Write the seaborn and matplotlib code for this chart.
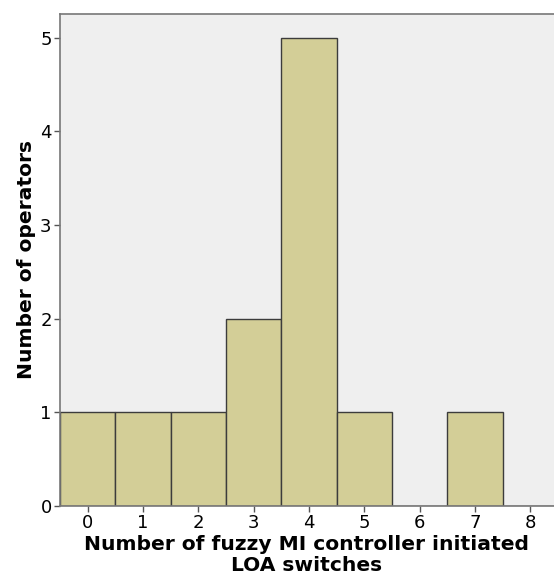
import matplotlib
matplotlib.use("Agg")
import matplotlib.pyplot as plt
import seaborn as sns

# switch counts per operator (histogram)
switches = [0, 1, 2, 3, 4, 5, 6, 7, 8]
operators = [1, 1, 1, 2, 5, 1, 0, 1, 0]
x_ticks = [0, 1, 2, 3, 4, 5, 6, 7, 8]
y_ticks = [0, 1, 2, 3, 4, 5]

sns.set_style("white")
plt.rcParams["font.family"] = ["DejaVu Sans"]

fig = plt.figure(figsize=(5.54, 5.80), dpi=100)
ax = fig.add_axes([60 / 554, 1 - 506 / 580, 1 - 60 / 554, (506 - 13.5) / 580])
ax.set_facecolor("#efefef")

sns.histplot(x=switches, weights=operators, discrete=True, ax=ax,
             color="#d3ce97", alpha=1, edgecolor="#3c3c3c", linewidth=1)

ax.set_xlim(-0.5, 8.43)
ax.set_ylim(0, 5.26)
ax.set_xticks(x_ticks)
ax.set_yticks(y_ticks)
ax.tick_params(axis="both", direction="out", length=4, width=1, color="#555555",
               labelsize=13, labelcolor="black", pad=2, bottom=True, left=True)

for side in ["left", "bottom", "top"]:
    ax.spines[side].set_color("#777777")
    ax.spines[side].set_linewidth(1.2)
ax.spines["right"].set_visible(False)

ax.set_xlabel("Number of fuzzy MI controller initiated\nLOA switches",
              fontsize=14.6, fontweight="bold", color="black",
              linespacing=1.1, labelpad=2)
ax.set_ylabel("Number of operators", fontsize=14.6, fontweight="bold",
              color="black", labelpad=3)

fig.savefig("out.png", dpi=100)
